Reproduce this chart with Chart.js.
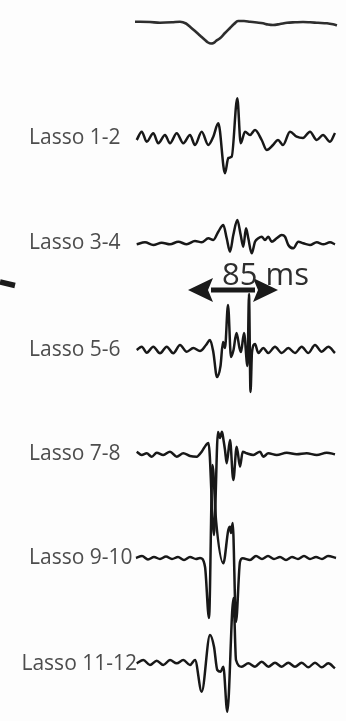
<!DOCTYPE html>
<html>
<head>
<meta charset="utf-8">
<script src="https://cdn.jsdelivr.net/npm/chart.js@4.4.1/dist/chart.umd.min.js"></script>
<style>
  html, body { margin: 0; padding: 0; background: #fdfdfd; }
  #wrap { width: 346px; height: 721px; position: relative; }
</style>
</head>
<body>
<div id="wrap"><canvas id="egm"></canvas></div>
<script>
// channel names (top one is the surface ECG, unlabeled)
const channels = ["", "Lasso 1-2", "Lasso 3-4", "Lasso 5-6", "Lasso 7-8", "Lasso 9-10", "Lasso 11-12"];
// baseline of each channel on the vertical scale (units, downwards)
const baselines = [22, 138, 243, 350, 454, 558, 664];

// time (ms) and deflection (units, positive = up) for every channel
const tEcg = [0, 15, 25, 37, 45, 51, 55, 60, 65, 70, 73, 76, 78, 81, 85, 90, 95, 99, 103, 109, 115, 122, 128, 133, 138, 145, 152, 160, 168, 175, 183, 192, 198, 202];
const vEcg = [0.3, 0, -0.7, -0.3, 0.3, -1.5, -4.7, -9, -13.5, -18, -20.5, -21.5, -21.3, -19, -16.3, -11, -6, -2, 1, 1, 0.3, -0.5, -1.3, -2.5, -3, -2, -0.7, -0.3, 0, -0.3, -0.8, -1.3, -2.3, -3.3];

const t12 = [1.7, 6.7, 11.7, 18.3, 23.3, 30, 35, 41.7, 48.3, 55, 60, 66.7, 73.3, 78.3, 83.3, 90, 93.3, 96.7, 102.3, 105.7, 110, 115, 120, 126.7, 131.7, 138, 143, 148, 155, 161.7, 168, 175, 181.7, 188, 195, 200];
const v12 = [-2, 6.3, -3.7, 4.7, -5.3, 3, -5.3, 4.7, -5.3, 3, -7, 6.3, -7, 1.3, 14.7, -35.3, -20, -18.7, 39.7, -5.3, 6.3, 3, 8, -2, -12, -7, -2, -7, 6.3, 1.3, 0, 6.3, -2, 3, -3.7, 5];

const t34 = [1.7, 10, 18.3, 26.7, 35, 43.3, 51.7, 60, 66.7, 73.3, 78.3, 83.3, 88.3, 91.7, 95, 98.3, 102.3, 105.7, 108.3, 111, 113.3, 116.7, 120, 123.3, 126.7, 130, 133.3, 136.7, 141.7, 146.7, 150, 153.3, 158.3, 163.3, 168.3, 175, 181.7, 188.3, 195, 200];
const v34 = [-1.3, 0.7, -2, 0.3, -1.3, 1.3, -1.3, 2, 0.7, 4.7, 3, 11.3, 18, 4.7, -8.7, 8, 23, 8, -3.7, 14.7, 4.7, -10.3, 1.3, 4.7, 6.3, 3, 6.3, 1.3, 4.7, 8, 6.3, -2, -5.3, 1.3, -0.3, -2, 0.7, -1.3, 0.7, -1.3];

const t56 = [1.7, 6.7, 11.7, 18.3, 25, 31.7, 38.3, 45, 51.7, 58.3, 65, 71, 75, 78.3, 82, 85.5, 88, 90, 93, 96, 98.5, 101.5, 104.5, 106, 109, 112.5, 114, 115.5, 117, 120, 123.3, 128.3, 133.3, 140, 146.7, 153.3, 160, 166.7, 173.3, 180, 186.7, 193.3, 200];
const v56 = [0, 3.3, -2.7, 3.3, -3.3, 3.3, -3.3, 5, -1.7, 2, -1, 5, 10, -2, -27, -16, 8, 2, 45, -7, 0, 17, 2, -2, 17, -16, 56, -42, -2, 6, -3, 2, -3, 3.3, -3, 2, -3, 3.3, -3, 5, -1.7, 3.3, -3];

const t78 = [1.7, 6.7, 11.7, 16.7, 21.7, 28.3, 35, 41.7, 48.3, 55, 61.7, 66.7, 71, 73.5, 79, 83, 85, 87, 88.5, 90, 91.7, 95, 98.3, 101.7, 105, 107.7, 111.7, 118.3, 125, 128.3, 133.3, 141.7, 151.7, 161.7, 171.7, 181.7, 191.7, 200];
const v78 = [2.3, -1, 0.7, -2.7, 1.3, -1, 2.3, -2.7, 0.7, -2, -2.7, 2.3, 9, 11, -81, 22, 16, 22.3, 14, 4, -9.3, 14, -26, 7.3, -12.7, 2.3, 0.7, -1, 2.3, -2.7, 0.7, -1, 1.3, -0.3, 0.7, -1, 1.3, -0.3];

const t910 = [1, 7, 13, 19, 25, 31, 37, 43, 49, 55, 61, 65, 70, 74, 77.5, 81, 88.3, 93.3, 95, 96, 97.7, 101, 105, 107.7, 115, 121, 127, 133, 139, 145, 151, 157, 163, 169, 175, 181, 187, 193, 201];
const v910 = [0, 2, -1.5, 1, -1, 1.5, -1, 1, -2, 1, -1, 0, -8.7, -60, 93, 38, -5.3, 28, 31.3, 25, 35, -64, -3.7, -0.3, -2, 2, -1, 2, -1, 1, -2, 1, -1, 2, -1, 1, -1, 2, 0];

const t1112 = [1.7, 8.3, 15, 21.7, 28.3, 35, 41.7, 48.3, 55, 60, 66.7, 75, 79, 82.3, 85.7, 88.3, 92.3, 98.5, 101, 106.7, 113.3, 120, 126.7, 133.3, 140, 146.7, 153.3, 160, 166.7, 173.3, 180, 186.7, 193.3, 200];
const v1112 = [0.7, 4, -1, 3.3, -1, 4, 0.7, 4, -1, 4, -27.7, 29, 17.3, -6, -7.7, -2.7, -47.7, 66, 4, -2.7, 0.7, -2.7, 2.3, -2.7, 1.3, -2.7, 1.3, -2.7, 1.3, -3.3, 1.3, -3.3, 0.7, -4.3];

// stray pointer stroke at the left edge
const tPointer = [-135, -120];
const yPointer = [282, 285.5];

// measured interval
const intervalLabel = "85 ms";
const intervalStart = 53;
const intervalEnd = 143;
const intervalLevel = 290;

const traces = [[tEcg, vEcg], [t12, v12], [t34, v34], [t56, v56], [t78, v78], [t910, v910], [t1112, v1112]];

const datasets = traces.map(([t, v], i) => ({
    label: channels[i] || "ECG",
    data: t.map((x, k) => ({ x: x, y: baselines[i] - v[k] })),
    borderColor: i === 0 ? "#2e2e2e" : "#181818",
    borderWidth: i === 0 ? 2.6 : 2.5,
    pointRadius: 0,
    cubicInterpolationMode: "monotone",
    fill: false
}));

datasets.push({
    label: "pointer",
    data: tPointer.map((x, k) => ({ x: x, y: yPointer[k] })),
    borderColor: "#1b1b1b",
    borderWidth: 5.5,
    pointRadius: 0,
    borderCapStyle: "butt"
});

const annotate = {
    id: "annotate",
    afterDatasetsDraw(chart) {
        const ctx = chart.ctx;
        const xs = chart.scales.x;
        const ys = chart.scales.y;
        ctx.save();

        // channel names
        ctx.font = "21px 'Open Sans'";
        ctx.fillStyle = "#4d4d4d";
        ctx.textBaseline = "middle";
        const traceStart = xs.getPixelForValue(0);
        channels.forEach((name, i) => {
            if (!name) return;
            const w = ctx.measureText(name).width;
            const left = Math.min(29, traceStart + 2 - w);
            ctx.fillText(name, left, ys.getPixelForValue(baselines[i]));
        });

        // double-headed arrow
        const x0 = xs.getPixelForValue(intervalStart);
        const x1 = xs.getPixelForValue(intervalEnd);
        const yA = ys.getPixelForValue(intervalLevel);
        const head = 25, half = 12;
        ctx.fillStyle = "#1a1a1a";
        ctx.strokeStyle = "#1a1a1a";
        ctx.lineWidth = 5;
        ctx.beginPath();
        ctx.moveTo(x0 + head - 2, yA);
        ctx.lineTo(x1 - head + 2, yA);
        ctx.stroke();
        ctx.beginPath();
        ctx.moveTo(x0, yA);
        ctx.lineTo(x0 + head, yA - half);
        ctx.lineTo(x0 + head - 5, yA);
        ctx.lineTo(x0 + head, yA + half);
        ctx.closePath();
        ctx.fill();
        ctx.beginPath();
        ctx.moveTo(x1, yA);
        ctx.lineTo(x1 - head, yA - half);
        ctx.lineTo(x1 - head + 5, yA);
        ctx.lineTo(x1 - head, yA + half);
        ctx.closePath();
        ctx.fill();

        // interval text
        ctx.font = "31px 'Open Sans'";
        ctx.fillStyle = "#2e2e2e";
        ctx.textBaseline = "alphabetic";
        ctx.fillText(intervalLabel, xs.getPixelForValue(87), ys.getPixelForValue(285));

        ctx.restore();
    }
};

new Chart(document.getElementById("egm"), {
    type: "line",
    data: { datasets: datasets },
    options: {
        responsive: true,
        maintainAspectRatio: false,
        animation: false,
        layout: { padding: 0 },
        plugins: { legend: { display: false }, tooltip: { enabled: false } },
        scales: {
            x: { type: "linear", min: -135, max: 211, display: false },
            y: { type: "linear", min: 0, max: 721, reverse: true, display: false }
        }
    },
    plugins: [annotate]
});
</script>
</body>
</html>
